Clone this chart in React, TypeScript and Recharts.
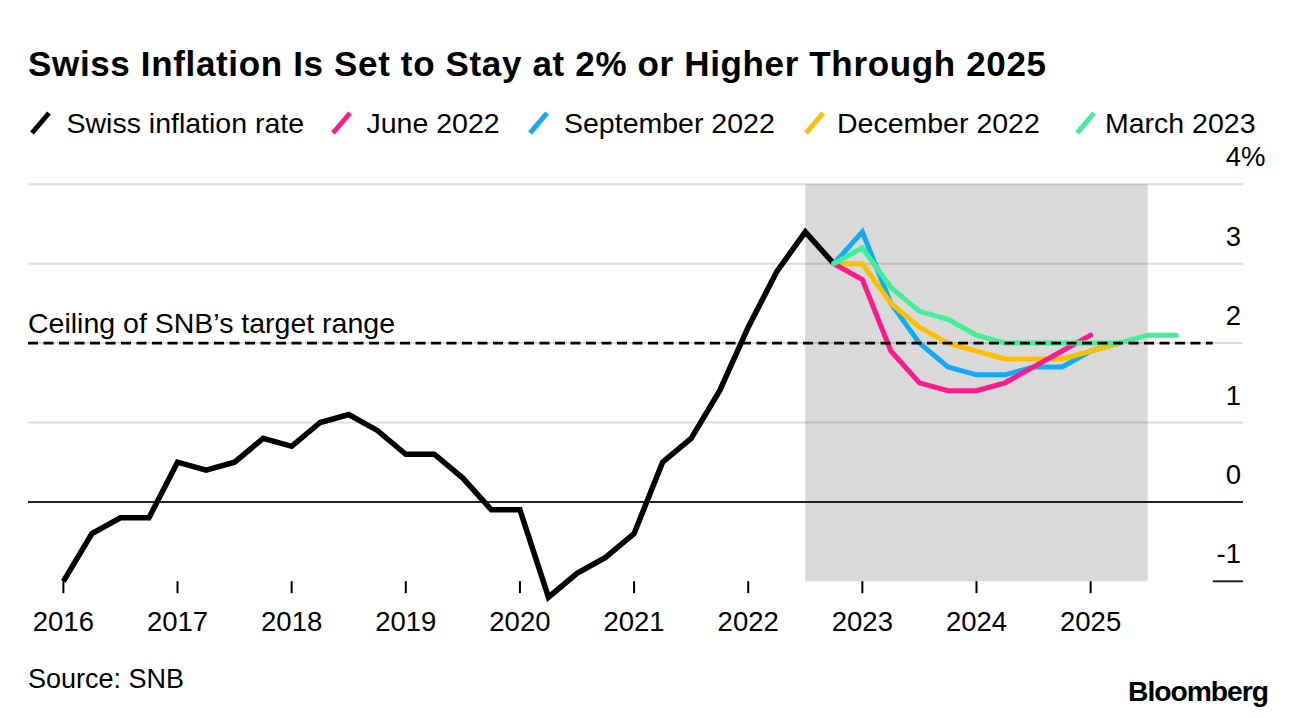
import React from "react";
import { LineChart, Line, XAxis, YAxis, ReferenceLine, ReferenceArea } from "recharts";

const FONT = '"Liberation Sans", Arial, Helvetica, sans-serif';

// Quarterly periods shown on the chart
const quarters = [
  "2016 Q1", "2016 Q2", "2016 Q3", "2016 Q4",
  "2017 Q1", "2017 Q2", "2017 Q3", "2017 Q4",
  "2018 Q1", "2018 Q2", "2018 Q3", "2018 Q4",
  "2019 Q1", "2019 Q2", "2019 Q3", "2019 Q4",
  "2020 Q1", "2020 Q2", "2020 Q3", "2020 Q4",
  "2021 Q1", "2021 Q2", "2021 Q3", "2021 Q4",
  "2022 Q1", "2022 Q2", "2022 Q3", "2022 Q4",
  "2023 Q1", "2023 Q2", "2023 Q3", "2023 Q4",
  "2024 Q1", "2024 Q2", "2024 Q3", "2024 Q4",
  "2025 Q1", "2025 Q2", "2025 Q3", "2025 Q4",
];

// Actual Swiss inflation, 2016 Q1 .. 2022 Q4
const swissInflation = [
  -1.0, -0.4, -0.2, -0.2,
  0.5, 0.4, 0.5, 0.8,
  0.7, 1.0, 1.1, 0.9,
  0.6, 0.6, 0.3, -0.1,
  -0.1, -1.2, -0.9, -0.7,
  -0.4, 0.5, 0.8, 1.4,
  2.2, 2.9, 3.4, 3.0,
];

// SNB conditional forecasts, each starting at 2022 Q4
const forecastStart = "2022 Q4";
const june2022 = [3.0, 2.8, 1.9, 1.5, 1.4, 1.4, 1.5, 1.7, 1.9, 2.1];
const september2022 = [3.0, 3.4, 2.5, 2.0, 1.7, 1.6, 1.6, 1.7, 1.7, 1.9, 2.0];
const december2022 = [3.0, 3.0, 2.5, 2.2, 2.0, 1.9, 1.8, 1.8, 1.8, 1.9, 2.0];
const march2023 = [3.0, 3.2, 2.7, 2.4, 2.3, 2.1, 2.0, 2.0, 2.0, 2.0, 2.0, 2.1, 2.1];

const yearTicks = [2016, 2017, 2018, 2019, 2020, 2021, 2022, 2023, 2024, 2025];
const valueTicks = [-1, 0, 1, 2, 3, 4];
const gridValues = [1, 2, 3, 4];
const ceilingLevel = 2;
const forecastWindow = [2022.5, 2025.5];

const series = [
  { key: "actual", name: "Swiss inflation rate", color: "#000000", width: 5.5 },
  { key: "june", name: "June 2022", color: "#ff1a8c", width: 5 },
  { key: "september", name: "September 2022", color: "#12aaf5", width: 5 },
  { key: "december", name: "December 2022", color: "#ffbf00", width: 5 },
  { key: "march", name: "March 2023", color: "#40ef96", width: 5 },
];

const toNum = (q: string) => {
  const [y, qq] = q.split(" Q");
  return Number(y) + (Number(qq) - 1) / 4;
};

const startIdx = quarters.indexOf(forecastStart);
const pick = (arr: number[], i: number) => {
  const k = i - startIdx;
  return k >= 0 && k < arr.length ? arr[k] : null;
};

const data = quarters.map((q, i) => ({
  x: toNum(q),
  actual: i < swissInflation.length ? swissInflation[i] : null,
  june: pick(june2022, i),
  september: pick(september2022, i),
  december: pick(december2022, i),
  march: pick(march2023, i),
}));

const X_DOMAIN: [number, number] = [2015.69, 2026.335];
const DASH_END = 2026.07;

function XTick(props: any) {
  const { x, y, payload } = props;
  return (
    <g>
      <line x1={x} x2={x} y1={y - 20} y2={y - 8} stroke="#000" strokeWidth={2} />
      <text x={x} y={y + 29.5} textAnchor="middle" fontSize={27.5} fontFamily={FONT} fill="#000">
        {payload.value}
      </text>
    </g>
  );
}

function YTick(props: any) {
  const { x, y, payload } = props;
  const right = x - 2;
  return (
    <g>
      <text x={right} y={y - 18} textAnchor="end" fontSize={27.5} fontFamily={FONT} fill="#000">
        {payload.value}
      </text>
      {payload.value === 4 ? (
        <text x={right} y={y - 18} textAnchor="start" fontSize={27.5} fontFamily={FONT} fill="#000">
          %
        </text>
      ) : null}
    </g>
  );
}

function CeilingLabel(props: any) {
  const vb = props.viewBox || {};
  return (
    <text x={(vb.x ?? 28)} y={(vb.y ?? 343) - 10} fontSize={28.5} fontFamily={FONT} fill="#000">
      Ceiling of SNB’s target range
    </text>
  );
}

const legendPos = [
  { slash: 30, text: 66.5 },
  { slash: 331, text: 366.5 },
  { slash: 528, text: 564 },
  { slash: 804, text: 837 },
  { slash: 1075, text: 1105 },
];

export default function App() {
  return (
    <div
      style={{
        position: "absolute",
        left: 0,
        top: 0,
        width: 1296,
        height: 718,
        background: "#fff",
        overflow: "hidden",
      }}
    >
      <LineChart
        width={1296}
        height={718}
        data={data}
        margin={{ top: 184.3, right: 52, bottom: 76.85, left: 28 }}
      >
        <ReferenceArea
          x1={forecastWindow[0]}
          x2={forecastWindow[1]}
          y1={-1}
          y2={4}
          fill="#d9d9d9"
          fillOpacity={1}
          stroke="none"
          ifOverflow="visible"
        />
        {gridValues.map((v) => (
          <ReferenceLine key={v} y={v} stroke="#000" strokeOpacity={0.13} strokeWidth={2} />
        ))}
        <ReferenceLine y={0} stroke="#222" strokeWidth={2} />
        <ReferenceLine
          segment={[
            { x: DASH_END, y: -1 },
            { x: X_DOMAIN[1], y: -1 },
          ]}
          stroke="#222"
          strokeWidth={2}
        />
        <XAxis
          dataKey="x"
          type="number"
          domain={X_DOMAIN}
          ticks={yearTicks}
          interval={0}
          axisLine={false}
          tickLine={false}
          tickSize={0}
          tickMargin={0}
          height={40}
          tick={<XTick />}
          allowDataOverflow
        />
        <YAxis
          orientation="right"
          type="number"
          domain={[-1.25, 4]}
          ticks={valueTicks}
          interval={0}
          axisLine={false}
          tickLine={false}
          tickSize={0}
          tickMargin={0}
          width={1}
          tick={<YTick />}
        />
        {[series[0], series[2], series[3], series[1], series[4]].map((s) => (
          <Line
            key={s.key}
            dataKey={s.key}
            name={s.name}
            type="linear"
            stroke={s.color}
            strokeWidth={s.width}
            dot={false}
            activeDot={false}
            isAnimationActive={false}
            strokeLinejoin="miter"
            strokeLinecap={s.key === "actual" ? "butt" : "round"}
          />
        ))}
        <ReferenceLine
          segment={[
            { x: X_DOMAIN[0], y: ceilingLevel },
            { x: DASH_END, y: ceilingLevel },
          ]}
          stroke="#000"
          strokeWidth={2.8}
          strokeDasharray="10 5.5"
          label={<CeilingLabel />}
        />
      </LineChart>
      <svg
        width={1296}
        height={718}
        style={{ position: "absolute", left: 0, top: 0, pointerEvents: "none" }}
      >
        <text
          x={28}
          y={76}
          fontSize={35}
          fontWeight={700}
          fontFamily={FONT}
          fill="#000"
          textLength={1018}
          lengthAdjust="spacing"
        >
          Swiss Inflation Is Set to Stay at 2% or Higher Through 2025
        </text>
        {series.map((s, i) => (
          <g key={s.key}>
            <line
              x1={legendPos[i].slash + 2}
              y1={133}
              x2={legendPos[i].slash + 19}
              y2={113}
              stroke={s.color}
              strokeWidth={5}
            />
            <text x={legendPos[i].text} y={133} fontSize={28.5} fontFamily={FONT} fill="#000">
              {s.name}
            </text>
          </g>
        ))}
        <text x={28} y={687.5} fontSize={27} fontFamily={FONT} fill="#000">
          Source: SNB
        </text>
        <text
          x={1268}
          y={700.5}
          textAnchor="end"
          fontSize={28}
          fontWeight={700}
          fontFamily={FONT}
          fill="#000"
          textLength={140}
          lengthAdjust="spacingAndGlyphs"
          letterSpacing={-1}
        >
          Bloomberg
        </text>
      </svg>
    </div>
  );
}
